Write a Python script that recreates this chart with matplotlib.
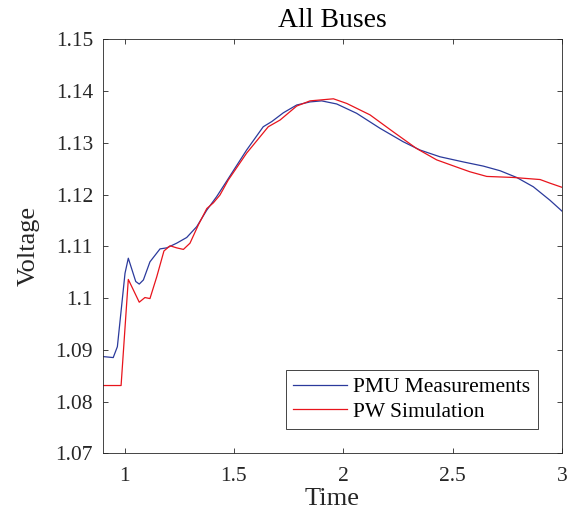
import numpy as np
import matplotlib
matplotlib.use('Agg')
import matplotlib.pyplot as plt

plt.rcParams['font.family'] = ['Liberation Serif', 'DejaVu Serif']

t_pmu = [0.9, 0.948, 0.967, 1.002, 1.017, 1.051, 1.067, 1.086, 1.116, 1.162,
         1.193, 1.238, 1.284, 1.330, 1.376, 1.421, 1.467, 1.482, 1.558, 1.634,
         1.673, 1.726, 1.787, 1.848, 1.901, 1.970, 2.061, 2.168, 2.274, 2.351,
         2.442, 2.549, 2.640, 2.717, 2.793, 2.869, 2.945, 3.0]
v_pmu = [1.0887, 1.0885, 1.0906, 1.1048, 1.1077, 1.1032, 1.1027, 1.1035, 1.1070, 1.1095,
         1.1097, 1.1106, 1.1117, 1.1138, 1.1170, 1.1196, 1.1226, 1.1236, 1.1286, 1.1331,
         1.1341, 1.1358, 1.1373, 1.1379, 1.1381, 1.1375, 1.1357, 1.1328, 1.1302, 1.1286,
         1.1273, 1.1263, 1.1255, 1.1246, 1.1233, 1.1215, 1.1189, 1.1168]

# PowerWorld simulation
t_pw = [0.9, 0.984, 1.017, 1.067, 1.093, 1.116, 1.147, 1.180, 1.208, 1.238,
        1.269, 1.299, 1.337, 1.376, 1.406, 1.436, 1.474, 1.558, 1.657, 1.711,
        1.787, 1.848, 1.955, 2.016, 2.122, 2.229, 2.335, 2.427, 2.519, 2.579,
        2.656, 2.778, 2.900, 2.945, 3.0]
v_pw = [1.0831, 1.0831, 1.1036, 1.0992, 1.1001, 1.0999, 1.1041, 1.1091, 1.1101, 1.1097,
        1.1094, 1.1106, 1.1141, 1.1173, 1.1184, 1.1199, 1.1228, 1.1280, 1.1331, 1.1344,
        1.1371, 1.1381, 1.1385, 1.1376, 1.1354, 1.1321, 1.1289, 1.1267, 1.1253, 1.1244,
        1.1235, 1.1233, 1.1229, 1.1222, 1.1214]

xticks = [1, 1.5, 2, 2.5, 3]
xticklabels = ['1', '1.5', '2', '2.5', '3']
yticks = [1.07, 1.08, 1.09, 1.1, 1.11, 1.12, 1.13, 1.14, 1.15]
yticklabels = ['1.07', '1.08', '1.09', '1.1', '1.11', '1.12', '1.13', '1.14', '1.15']

fig = plt.figure(figsize=(5.79, 5.21), dpi=100)
ax = fig.add_axes([0.1774, 0.1299, 0.7932, 0.7947])

ax.plot(t_pmu, v_pmu, color='#2b3a9c', lw=0.9, label='PMU Measurements')
ax.plot(t_pw, v_pw, color='#e8141c', lw=0.9, label='PW Simulation')

ax.set_xlim(0.9, 3)
ax.set_ylim(1.07, 1.15)
ax.set_xticks(xticks)
ax.set_xticklabels(xticklabels)
ax.set_yticks(yticks)
ax.set_yticklabels(yticklabels)

for s in ax.spines.values():
    s.set_color('#262626')
    s.set_linewidth(0.6)
ax.tick_params(direction='in', length=3.6, width=0.6, colors='#262626',
               labelsize=15.5, top=True, right=True)
ax.tick_params(axis='x', pad=10)
ax.tick_params(axis='y', pad=7)

ax.set_title('All Buses', fontsize=20, color='#000000', pad=9)
ax.set_xlabel('Time', fontsize=19, color='#262626', labelpad=1)
ax.set_ylabel('Voltage', fontsize=19, color='#262626', labelpad=11)

leg = ax.legend(loc='lower right', bbox_to_anchor=(0.948, 0.058), borderaxespad=0,
                fontsize=15.5, fancybox=False, framealpha=1, edgecolor='#262626',
                handlelength=2.5, handletextpad=0.3, labelspacing=0.2, borderpad=0.35)
leg.get_frame().set_linewidth(0.6)

fig.savefig('out.png', dpi=100)
